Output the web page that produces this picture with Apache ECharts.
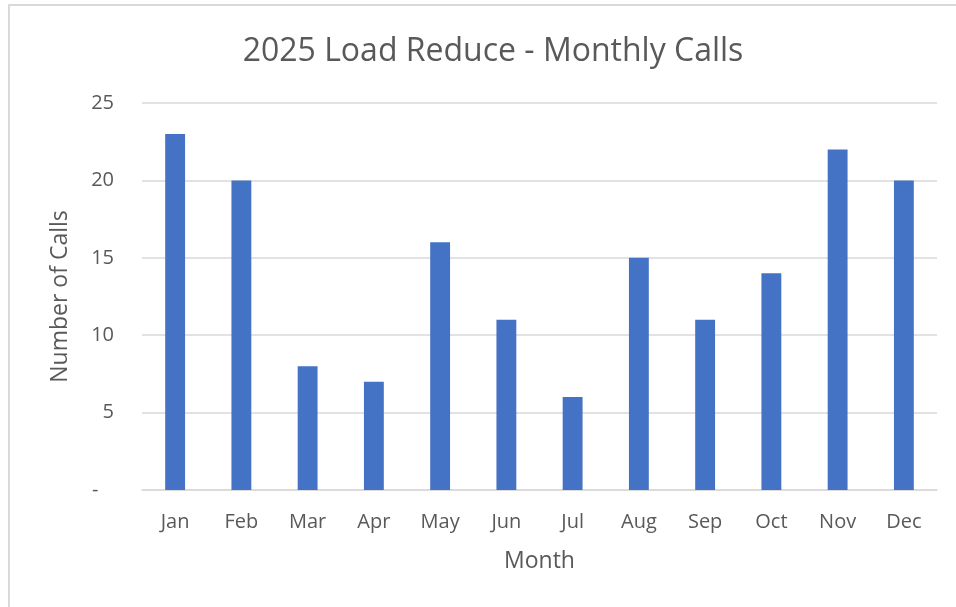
<!DOCTYPE html>
<html>
<head>
<meta charset="utf-8">
<title>2025 Load Reduce - Monthly Calls</title>
<script src="https://cdn.jsdelivr.net/npm/echarts@6/dist/echarts.min.js"></script>
<style>
  html, body { margin: 0; padding: 0; background: #fff; }
  #chart { width: 956px; height: 607px; }
</style>
</head>
<body>
<div id="chart"></div>
<script>
'use strict';
/* monthly calls data */
var months = ['Jan', 'Feb', 'Mar', 'Apr', 'May', 'Jun', 'Jul', 'Aug', 'Sep', 'Oct', 'Nov', 'Dec'];
var calls = [23, 20, 8, 7, 16, 11, 6, 15, 11, 14, 22, 20];
var yTicks = [0, 5, 10, 15, 20, 25];

var textColor = '#595959';
var fontFamily = '"Open Sans", "Noto Sans", sans-serif';

var chart = echarts.init(document.getElementById('chart'));
var option = {
  backgroundColor: '#fff',
  textStyle: { fontFamily: fontFamily },
  graphic: [{
    type: 'rect',
    shape: { x: 9, y: 5, width: 1000, height: 700 },
    style: { fill: 'none', stroke: '#d9d9d9', lineWidth: 2 },
    silent: true
  }],
  title: {
    text: '2025 Load Reduce - Monthly Calls',
    left: 488,
    top: 31,
    textAlign: 'center',
    textStyle: { color: textColor, fontSize: 32, fontWeight: 'normal', fontFamily: fontFamily }
  },
  grid: { left: 142, right: 19, top: 103, bottom: 117, containLabel: false },
  xAxis: {
    type: 'category',
    data: months,
    name: 'Month',
    nameLocation: 'middle',
    nameGap: 60,
    nameTextStyle: { color: textColor, fontSize: 23, fontFamily: fontFamily },
    axisLine: { lineStyle: { color: '#d9d9d9', width: 1.5 } },
    axisTick: { show: false },
    axisLabel: { color: textColor, fontSize: 20, margin: 22, fontFamily: fontFamily }
  },
  yAxis: {
    type: 'value',
    min: yTicks[0],
    max: yTicks[yTicks.length - 1],
    interval: 5,
    name: 'Number of Calls',
    nameLocation: 'middle',
    nameRotate: 90,
    nameGap: 70,
    nameTextStyle: { color: textColor, fontSize: 23, fontFamily: fontFamily },
    axisLine: { show: false },
    axisTick: { show: false },
    splitLine: { lineStyle: { color: '#d9d9d9', width: 1.5 } },
    axisLabel: {
      color: textColor,
      fontSize: 20,
      margin: 28,
      fontFamily: fontFamily,
      formatter: function(v) { return v === 0 ? '-   ' : String(v); }
    }
  },
  series: [{
    name: 'Number of Calls',
    type: 'bar',
    data: calls,
    barWidth: '30%',
    itemStyle: { color: '#4472C4' }
  }]
};
chart.setOption(option);
</script>
</body>
</html>
